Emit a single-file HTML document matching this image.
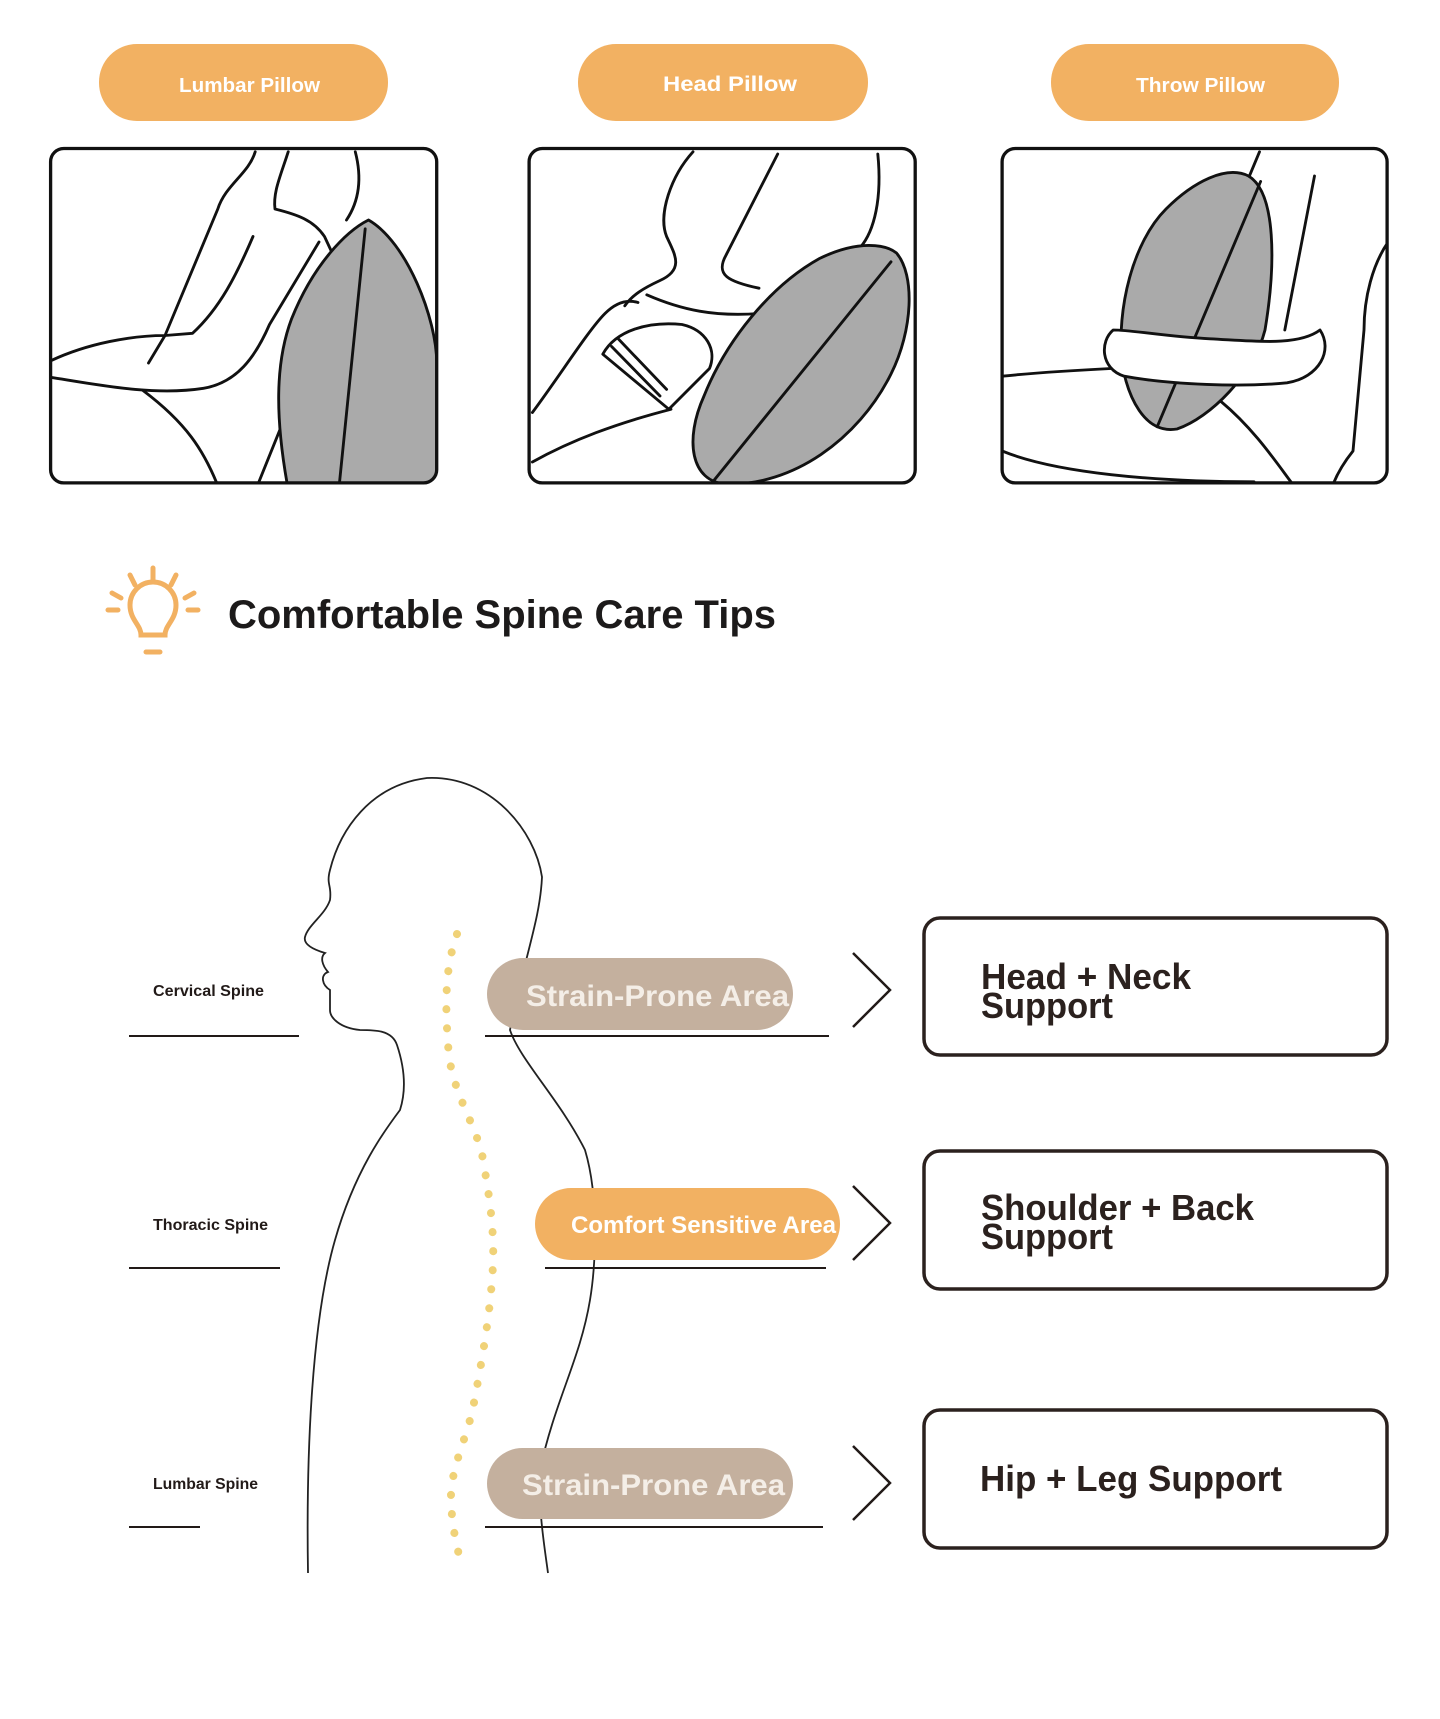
<!DOCTYPE html>
<html><head><meta charset="utf-8"><style>
html,body{margin:0;padding:0;background:#fff;}
svg{display:block;}
text{font-family:"Liberation Sans",sans-serif;font-weight:bold;}
</style></head><body>
<svg width="1440" height="1719" viewBox="0 0 1440 1719" xmlns="http://www.w3.org/2000/svg">
<defs>
<clipPath id="c1"><rect x="46" y="135" width="351" height="304" rx="12"/></clipPath>
<clipPath id="c2"><rect x="481" y="135" width="351" height="304" rx="12"/></clipPath>
<clipPath id="c3"><rect x="911" y="135" width="350" height="304" rx="12"/></clipPath>
</defs>
<!-- top pills -->
<rect x="99" y="44" width="289" height="77" rx="38" fill="#f2b162"/>
<rect x="578" y="44" width="290" height="77" rx="38" fill="#f2b162"/>
<rect x="1051" y="44" width="288" height="77" rx="38" fill="#f2b162"/>
<text x="179" y="92" font-size="20" fill="#fff" textLength="141" lengthAdjust="spacingAndGlyphs">Lumbar Pillow</text>
<text x="663" y="91" font-size="21" fill="#fff" textLength="134" lengthAdjust="spacingAndGlyphs">Head Pillow</text>
<text x="1136" y="92" font-size="20" fill="#fff" textLength="129" lengthAdjust="spacingAndGlyphs">Throw Pillow</text>

<g transform="scale(1.1)" fill="none" stroke="#111" stroke-width="2.6" stroke-linejoin="round" stroke-linecap="round">
 <!-- panel 1 -->
 <g clip-path="url(#c1)">
  <path d="M232 138 C226 158 205 168 198 190 L150 305 L135 330"/>
  <path d="M262 138 C255 160 248 175 250 190 C270 195 285 200 295 215 L302 230"/>
  <path d="M323 138 C330 165 325 185 315 200"/>
  <path d="M46 328 C80 312 120 305 150 305 L175 303 C200 280 215 250 230 215"/>
  <path d="M46 343 C90 350 140 360 185 353 C215 348 232 325 245 295 L290 220"/>
  <path d="M130 355 C170 385 185 410 197 439"/>
  <path d="M235 439 L262 372"/>
  <path d="M335 200 C370 220 397 290 397 330 L397 445 L262 445 C250 380 250 330 265 290 C285 240 315 210 335 200 Z" fill="#aaa"/>
  <path d="M332 208 L308 445"/>
 </g>
 <rect x="46" y="135" width="351" height="304" rx="12" stroke-width="3"/>
 <!-- panel 2 -->
 <g clip-path="url(#c2)">
  <path d="M630 138 C610 160 598 195 606 215 C614 232 622 245 600 255 C585 262 575 268 568 278"/>
  <path d="M707 140 L660 232 C650 250 662 256 690 262"/>
  <path d="M798 140 C802 180 795 210 782 225"/>
  <path d="M588 268 C620 282 650 288 690 285"/>
  <path d="M484 375 C510 340 535 300 550 285 C560 275 570 272 580 275"/>
  <path d="M484 420 C520 400 560 385 610 372"/>
  <path d="M548 322 C560 300 590 292 620 295 C642 300 652 318 645 335 L608 372 L548 322 Z" fill="#fff"/>
  <path d="M556 315 L600 360 M562 308 L606 354"/>
  <path d="M815 230 C832 250 830 300 810 340 C780 400 720 442 660 440 C628 438 622 400 640 360 C660 310 700 260 745 235 C780 218 805 222 815 230 Z" fill="#aaa"/>
  <path d="M810 238 L648 438"/>
 </g>
 <rect x="481" y="135" width="351" height="304" rx="12" stroke-width="3"/>
 <!-- panel 3 -->
 <g clip-path="url(#c3)">
  <path d="M1145 138 L1135 162"/>
  <path d="M1195 160 L1168 300"/>
  <path d="M1262 220 C1248 240 1240 270 1240 300 L1230 410 C1222 420 1216 430 1212 440"/>
  <path d="M911 342 C950 338 990 336 1010 335"/>
  <path d="M911 410 C960 430 1050 438 1140 438"/>
  <path d="M1110 365 C1140 390 1160 420 1175 440"/>
  <path d="M1135 160 C1160 175 1160 240 1150 300 C1140 340 1100 380 1070 390 C1040 395 1025 360 1020 330 C1015 280 1030 220 1060 190 C1085 165 1115 150 1135 160 Z" fill="#aaa"/>
  <path d="M1146 165 L1052 388"/>
  <path d="M1012 300 C1000 310 1000 335 1022 342 C1065 350 1130 352 1170 348 C1200 343 1212 318 1200 300 C1180 315 1140 310 1100 308 C1060 306 1030 300 1012 300 Z" fill="#fff"/>
 </g>
 <rect x="911" y="135" width="350" height="304" rx="12" stroke-width="3"/>
</g>

<!-- title -->
<g stroke="#f2b162" stroke-width="5" stroke-linecap="round" fill="none">
 <path d="M141 635 C141 625 130 620 130 605 A23 23 0 1 1 176 605 C176 620 165 625 165 635 Z" stroke-width="5"/>
 <path d="M146 652 L160 652"/>
 <path d="M153 568 L153 580 M130 575 L135 585 M176 575 L171 585 M112 593 L121 598 M194 593 L185 598 M108 610 L118 610 M198 610 L188 610"/>
</g>
<text x="228" y="628" font-size="40" fill="#1c1a1a" textLength="548" lengthAdjust="spacingAndGlyphs">Comfortable Spine Care Tips</text>

<!-- silhouette -->
<path d="M308 1573 C306 1450 312 1320 335 1240 C355 1170 385 1130 400 1110 C408 1085 402 1060 397 1045 C392 1030 375 1030 360 1030 C340 1028 330 1018 330 1010 L330 990 C322 985 320 975 328 972 C322 965 320 957 325 953 C315 950 303 945 305 937 C308 925 325 915 330 900 C332 885 326 885 330 870 C340 830 370 785 427 778 C490 775 535 830 542 877 C540 920 525 955 510 1030 C520 1060 560 1100 585 1150 C600 1200 595 1270 590 1300 C580 1360 555 1400 540 1470 C538 1510 545 1550 548 1573" fill="none" stroke="#222" stroke-width="1.8"/>
<path d="M457 934 C448 960 443 990 449 1056 C455 1100 480 1130 484 1166 C492 1210 494 1240 493 1265 C490 1320 480 1370 473 1408 C466 1440 450 1470 451 1500 C452 1530 458 1550 462 1568" fill="none" stroke="#f0d278" stroke-width="8" stroke-linecap="round" stroke-dasharray="0.1 19"/>

<!-- labels -->
<g fill="#221a18">
<text x="153" y="996" font-size="16" textLength="111" lengthAdjust="spacingAndGlyphs">Cervical Spine</text>
<text x="153" y="1230" font-size="16" textLength="115" lengthAdjust="spacingAndGlyphs">Thoracic Spine</text>
<text x="153" y="1489" font-size="16" textLength="105" lengthAdjust="spacingAndGlyphs">Lumbar Spine</text>
</g>
<g stroke="#221a18" stroke-width="2">
<path d="M129 1036 L299 1036 M485 1036 L829 1036"/>
<path d="M129 1268 L280 1268 M545 1268 L826 1268"/>
<path d="M129 1527 L200 1527 M485 1527 L823 1527"/>
</g>
<!-- pills -->
<rect x="487" y="958" width="306" height="72" rx="36" fill="#c4b09e"/>
<rect x="535" y="1188" width="305" height="72" rx="36" fill="#f2b162"/>
<rect x="487" y="1448" width="306" height="71" rx="35.5" fill="#c4b09e"/>
<text x="526" y="1006" font-size="30" fill="#f4eee7" textLength="263" lengthAdjust="spacingAndGlyphs">Strain-Prone Area</text>
<text x="571" y="1233" font-size="24" fill="#fff" textLength="265" lengthAdjust="spacingAndGlyphs">Comfort Sensitive Area</text>
<text x="522" y="1495" font-size="30" fill="#f4eee7" textLength="263" lengthAdjust="spacingAndGlyphs">Strain-Prone Area</text>
<!-- chevrons -->
<g fill="none" stroke="#221a18" stroke-width="2.5">
<path d="M853 953 L890 990 L853 1027"/>
<path d="M853 1186 L890 1223 L853 1260"/>
<path d="M853 1446 L890 1483 L853 1520"/>
</g>
<!-- boxes -->
<g fill="none" stroke="#2b211e" stroke-width="3.5">
<rect x="924" y="918" width="463" height="137" rx="16"/>
<rect x="924" y="1151" width="463" height="138" rx="16"/>
<rect x="924" y="1410" width="463" height="138" rx="16"/>
</g>
<g fill="#2b211e">
<text x="981" y="989" font-size="36" textLength="210" lengthAdjust="spacingAndGlyphs">Head + Neck</text>
<text x="981" y="1018" font-size="36" textLength="132" lengthAdjust="spacingAndGlyphs">Support</text>
<text x="981" y="1220" font-size="36" textLength="273" lengthAdjust="spacingAndGlyphs">Shoulder + Back</text>
<text x="981" y="1249" font-size="36" textLength="132" lengthAdjust="spacingAndGlyphs">Support</text>
<text x="980" y="1491" font-size="36" textLength="302" lengthAdjust="spacingAndGlyphs">Hip + Leg Support</text>
</g>
</svg>
</body></html>
